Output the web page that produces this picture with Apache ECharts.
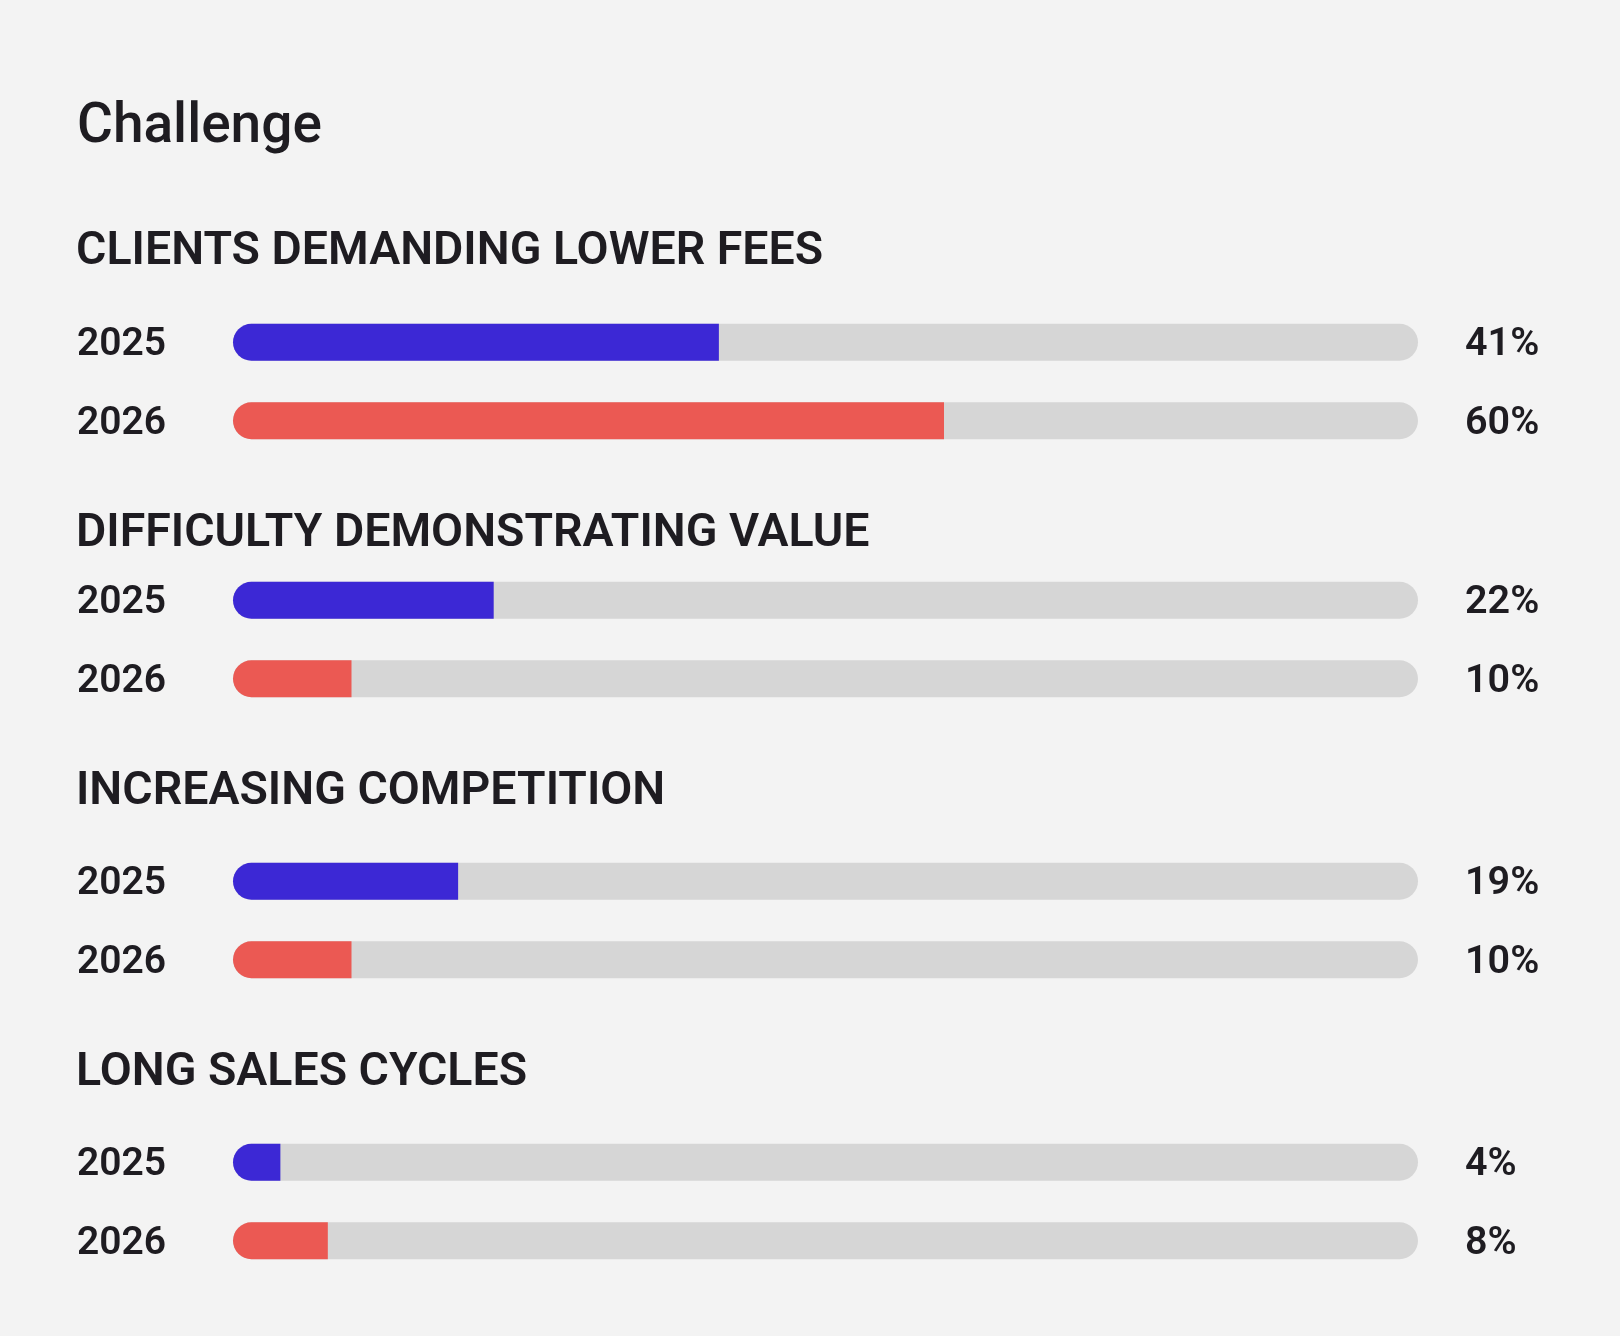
<!DOCTYPE html>
<html>
<head>
<meta charset="utf-8">
<script src="https://cdn.jsdelivr.net/npm/echarts@6/dist/echarts.min.js"></script>
<style>
html,body{margin:0;padding:0;background:#f3f3f3;}
#chart{width:1620px;height:1336px;}
</style>
</head>
<body>
<div id="chart"></div>
<script>
const chartTitle = 'Challenge';
const groups = ['CLIENTS DEMANDING LOWER FEES', 'DIFFICULTY DEMONSTRATING VALUE', 'INCREASING COMPETITION', 'LONG SALES CYCLES'];
const years = ['2025', '2026'];
const values2025 = [41, 22, 19, 4];
const values2026 = [60, 10, 10, 8];

// layout (pixels)
const groupTitleY = [247.5, 529, 787, 1068];
const gridTops = [303, 561, 842, 1123];
const gridH = 157;
const gridLeft = 233, gridRight = 202;
const textColor = '#1e1c21';
const yearColors = ['#3c28d5', '#eb5953'];
const trackColor = '#d6d6d6';
const R = 18.5;
const FONT = 'Roboto, "Noto Sans", sans-serif';

const chart = echarts.init(document.getElementById('chart'));
const grids = [], xAxes = [], yAxes = [], series = [], graphics = [];

graphics.push({
  type: 'text', left: 77, top: 124.5 - 24,
  style: { text: chartTitle, fill: textColor, font: '500 55px ' + FONT }
});

groups.forEach((g, i) => {
  const vals = [values2025[i], values2026[i]];
  graphics.push({
    type: 'text', left: 76, top: groupTitleY[i] - 18.5,
    style: { text: g, fill: textColor, font: '600 46.5px ' + FONT }
  });
  grids.push({ left: gridLeft, right: gridRight, top: gridTops[i], height: gridH });
  xAxes.push({ gridIndex: i, type: 'value', min: 0, max: 100, show: false });
  yAxes.push({
    gridIndex: i, type: 'category', data: years, inverse: true,
    axisLine: { show: false }, axisTick: { show: false }, splitLine: { show: false },
    axisLabel: { align: 'left', verticalAlign: 'top', lineHeight: 6, margin: gridLeft - 77, color: textColor, fontSize: 39, fontWeight: 600, fontFamily: FONT }
  });
  yAxes.push({
    gridIndex: i, type: 'category', position: 'right', inverse: true,
    data: vals.map(v => v + '%'),
    axisLine: { show: false }, axisTick: { show: false }, splitLine: { show: false },
    axisLabel: { align: 'left', verticalAlign: 'top', lineHeight: 6, margin: 47, color: textColor, fontSize: 39.5, fontWeight: 600, fontFamily: FONT }
  });
  series.push({
    type: 'bar', xAxisIndex: i, yAxisIndex: 2 * i,
    barWidth: 37,
    showBackground: true,
    backgroundStyle: { color: trackColor, borderRadius: R },
    data: vals.map((v, k) => ({ value: v, itemStyle: { color: yearColors[k], borderRadius: [R, 0, 0, R] } })),
    silent: true,
    animation: false
  });
});

chart.setOption({
  backgroundColor: '#f3f3f3',
  animation: false,
  grid: grids,
  xAxis: xAxes,
  yAxis: yAxes,
  series: series,
  graphic: graphics
});
</script>
</body>
</html>
